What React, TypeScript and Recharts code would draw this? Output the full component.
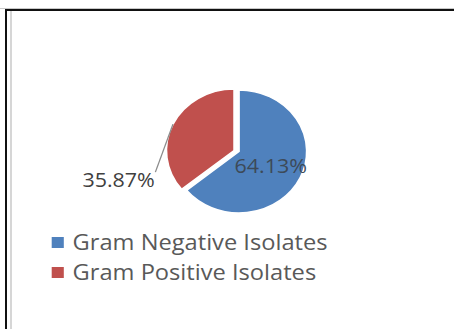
import { PieChart, Pie, Cell, Legend } from 'recharts';

const CATEGORIES = ['Gram Negative Isolates', 'Gram Positive Isolates'];
const SHARES = [64.13, 35.87];
const COLORS = ['#4F81BD', '#C0504D'];

const data = CATEGORIES.map((name, i) => ({ name, value: SHARES[i] }));

const RAD = Math.PI / 180;
const FONT = '"Open Sans", sans-serif';

// chart is drawn narrow and stretched horizontally by SX
const SX = 1.1;
const W = 413;
const H = 329;
const CX = 217.3;
const CY = 151.5;
const R = 61.5;
// the positive slice is pulled out of the pie
const POP_X = -4.5;
const POP_Y = -1;

function insideLabel(p: any) {
  if (p.index !== 0) return null;
  const r = p.outerRadius * 0.52;
  const x = p.cx + r * Math.cos(-p.midAngle * RAD);
  const y = p.cy + r * Math.sin(-p.midAngle * RAD);
  return (
    <text x={x} y={y} fill="#3d4a58" fontSize={19.5} fontFamily={FONT} textAnchor="middle" dominantBaseline="central">
      {p.value.toFixed(2)}%
    </text>
  );
}

function outsideLabel(p: any) {
  if (p.index !== 1) return null;
  const sx = p.cx + p.outerRadius * Math.cos(-p.midAngle * RAD);
  const sy = p.cy + p.outerRadius * Math.sin(-p.midAngle * RAD);
  const ex = sx - 16;
  const ey = sy + 48;
  return (
    <g>
      <line x1={sx} y1={sy} x2={ex} y2={ey} stroke="#8c8c8c" strokeWidth={1.2} />
      <text x={ex - 0.5} y={ey + 7.5} fill="#404040" fontSize={19.5} fontFamily={FONT} textAnchor="end" dominantBaseline="central">
        {p.value.toFixed(2)}%
      </text>
    </g>
  );
}

function LegendBox() {
  return (
    <div style={{ fontFamily: FONT, fontSize: 21.5, color: '#595959', lineHeight: '30px' }}>
      {CATEGORIES.map((name, i) => (
        <div key={name} style={{ display: 'flex', alignItems: 'center', whiteSpace: 'nowrap' }}>
          <span style={{ width: 11, height: 11, background: COLORS[i], marginRight: 8, display: 'inline-block' }} />
          {name}
        </div>
      ))}
    </div>
  );
}

export default function App() {
  return (
    <div style={{ position: 'fixed', left: 0, top: 0, width: 454, height: 329, background: '#fff', overflow: 'hidden' }}>
      <style>{'html, body { margin: 0; overflow: hidden; }'}</style>
      {/* frame: grey hairline, black border, light inner rule */}
      <div style={{ position: 'absolute', left: 0, width: 454, top: 8, height: 1, background: '#c8c8c8' }} />
      <div
        style={{
          position: 'absolute',
          left: 5,
          top: 9,
          width: 460,
          height: 330,
          borderTop: '2px solid #111',
          borderLeft: '2px solid #111',
          boxSizing: 'border-box',
        }}
      />
      <div style={{ position: 'absolute', left: 10, top: 11, height: 318, width: 2, background: '#d6d6d6' }} />

      <div style={{ position: 'absolute', left: 0, top: 0, width: W, height: H, transform: `scaleX(${SX})`, transformOrigin: '0 0' }}>
        <PieChart width={W} height={H} margin={{ top: 0, right: 0, bottom: 0, left: 0 }}>
          <Pie
            data={data}
            dataKey="value"
            nameKey="name"
            cx={CX}
            cy={CY}
            outerRadius={R}
            startAngle={90}
            endAngle={-270}
            stroke="#fff"
            strokeWidth={1.5}
            label={insideLabel}
            labelLine={false}
            isAnimationActive={false}
          >
            {data.map((d, i) => (
              <Cell key={d.name} fill={i === 0 ? COLORS[0] : 'none'} stroke={i === 0 ? '#fff' : 'none'} />
            ))}
          </Pie>
          <Pie
            data={data}
            dataKey="value"
            nameKey="name"
            cx={CX + POP_X}
            cy={CY + POP_Y}
            outerRadius={R}
            startAngle={90}
            endAngle={-270}
            stroke="#fff"
            strokeWidth={1.5}
            label={outsideLabel}
            labelLine={false}
            legendType="none"
            isAnimationActive={false}
          >
            {data.map((d, i) => (
              <Cell key={d.name} fill={i === 1 ? COLORS[1] : 'none'} stroke={i === 1 ? '#fff' : 'none'} />
            ))}
          </Pie>
          <Legend
            layout="vertical"
            content={() => <LegendBox />}
            wrapperStyle={{ position: 'absolute', left: 47, top: 227, width: 300 }}
          />
        </PieChart>
      </div>
    </div>
  );
}
